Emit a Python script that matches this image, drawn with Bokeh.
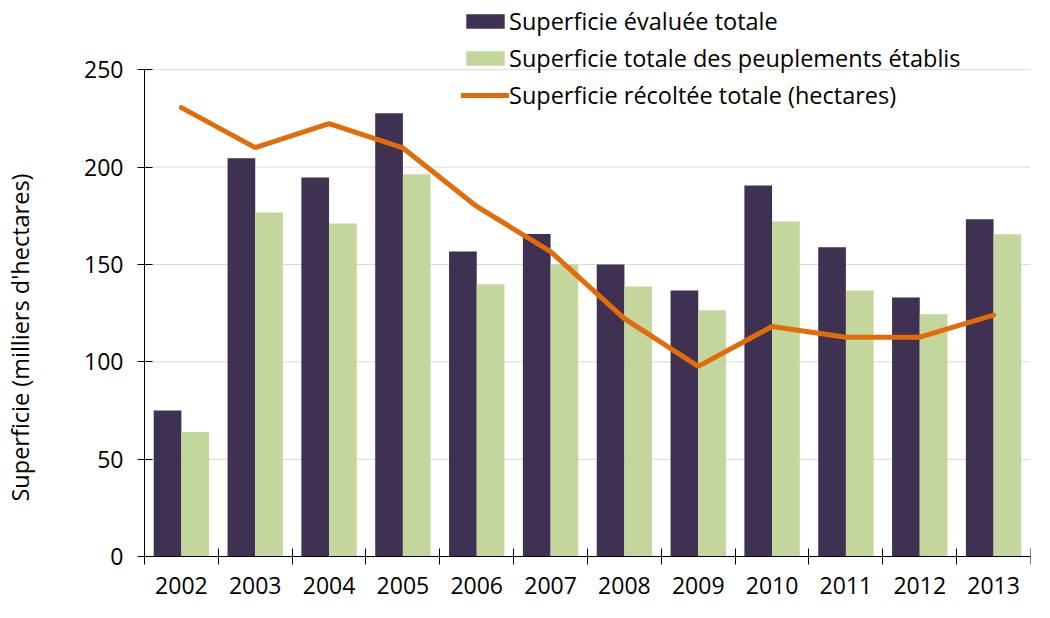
import math
import numpy as np
from bokeh.plotting import figure
from bokeh.models import (ColumnDataSource, Range1d, FixedTicker, Legend,
                          LegendItem, Label)
from bokeh.embed import file_html
from bokeh.resources import INLINE

# données (milliers d'hectares)
years = ["2002", "2003", "2004", "2005", "2006", "2007",
         "2008", "2009", "2010", "2011", "2012", "2013"]
evaluee = [75, 204.5, 194.7, 227.6, 156.7, 165.6, 150, 136.7, 190.6, 158.8, 133.1, 173.2]
etablis = [64, 176.7, 171.1, 196.3, 139.8, 150, 138.7, 126.5, 172.1, 136.7, 124.4, 165.5]
recoltee = [230.5, 210, 222.3, 209.8, 179.8, 156.6, 122.2, 97.7, 118.2, 112.7, 112.7, 124]
y_ticks = [0, 50, 100, 150, 200, 250]

FONT = "Open Sans"
DARK = "#3F3151"
GREEN = "#C3D69B"
ORANGE = "#E36C0A"

n = len(years)
pos = np.arange(n) + 0.5
bw = 0.375
src = ColumnDataSource(data=dict(
    x=pos, xa=pos - bw / 2, xb=pos + bw / 2,
    evaluee=evaluee, etablis=etablis, recoltee=recoltee,
))

# the frame covers the whole canvas so legend, labels are not clipped;
# both axes are pinned with fixed_location
p = figure(width=1042, height=610,
           x_range=Range1d(-1.95, n), y_range=Range1d(-27.6, 285.5),
           output_backend="svg", toolbar_location=None,
           min_border=0, min_border_right=12)
p.outline_line_color = None
p.background_fill_color = "white"
p.xgrid.visible = False
p.ygrid.visible = False

# horizontal gridlines only over the plot area
p.segment(x0=0, x1=n, y0=y_ticks, y1=y_ticks, line_color="#D9D9D9",
          line_width=1, level="underlay")

r1 = p.vbar(x="xa", top="evaluee", width=bw, source=src,
            fill_color=DARK, line_color=None)
r2 = p.vbar(x="xb", top="etablis", width=bw, source=src,
            fill_color=GREEN, line_color=None)
r3 = p.line(x="x", y="recoltee", source=src, line_color=ORANGE,
            line_width=5, line_cap="round")

# axes
p.yaxis.fixed_location = 0
p.yaxis.bounds = (0, 250)
p.yaxis.ticker = FixedTicker(ticks=y_ticks)
p.yaxis.major_tick_in = 8
p.yaxis.major_tick_out = 7
p.yaxis.minor_tick_line_color = None
p.yaxis.axis_line_color = "black"
p.yaxis.major_tick_line_color = "black"
p.yaxis.major_label_standoff = 14
p.yaxis.major_label_text_font = FONT
p.yaxis.major_label_text_font_size = "23px"
p.yaxis.major_label_text_color = "black"

p.xaxis.fixed_location = 0
p.xaxis.bounds = (0, n)
p.xaxis.ticker = FixedTicker(ticks=[float(v) for v in pos],
                             minor_ticks=list(range(n + 1)))
p.xaxis.major_label_overrides = {float(v): y for v, y in zip(pos, years)}
p.xaxis.major_tick_in = 0
p.xaxis.major_tick_out = 0
p.xaxis.minor_tick_in = 8
p.xaxis.minor_tick_out = 8
p.xaxis.minor_tick_line_color = "black"
p.xaxis.axis_line_color = "black"
p.xaxis.major_label_standoff = 12
p.xaxis.major_label_text_font = FONT
p.xaxis.major_label_text_font_size = "23px"
p.xaxis.major_label_text_color = "black"

ylab = Label(x=19, y=273, x_units="screen", y_units="screen",
             text="Superficie (milliers d'hectares)", angle=math.pi / 2,
             text_align="center", text_baseline="middle",
             text_font=FONT, text_font_size="23.5px", text_color="black")
p.add_layout(ylab)

legend = Legend(items=[
    LegendItem(label="Superficie évaluée totale", renderers=[r1]),
    LegendItem(label="Superficie totale des peuplements établis", renderers=[r2]),
    LegendItem(label="Superficie récoltée totale (hectares)", renderers=[r3]),
], location=(461, 499), glyph_width=48, glyph_height=18,
    label_standoff=0, spacing=5, padding=0, margin=0,
    label_text_font=FONT, label_text_font_size="23.5px",
    label_text_color="black",
    border_line_color=None, background_fill_alpha=0)
p.add_layout(legend)

open("out.html", "w").write(file_html(p, INLINE))
